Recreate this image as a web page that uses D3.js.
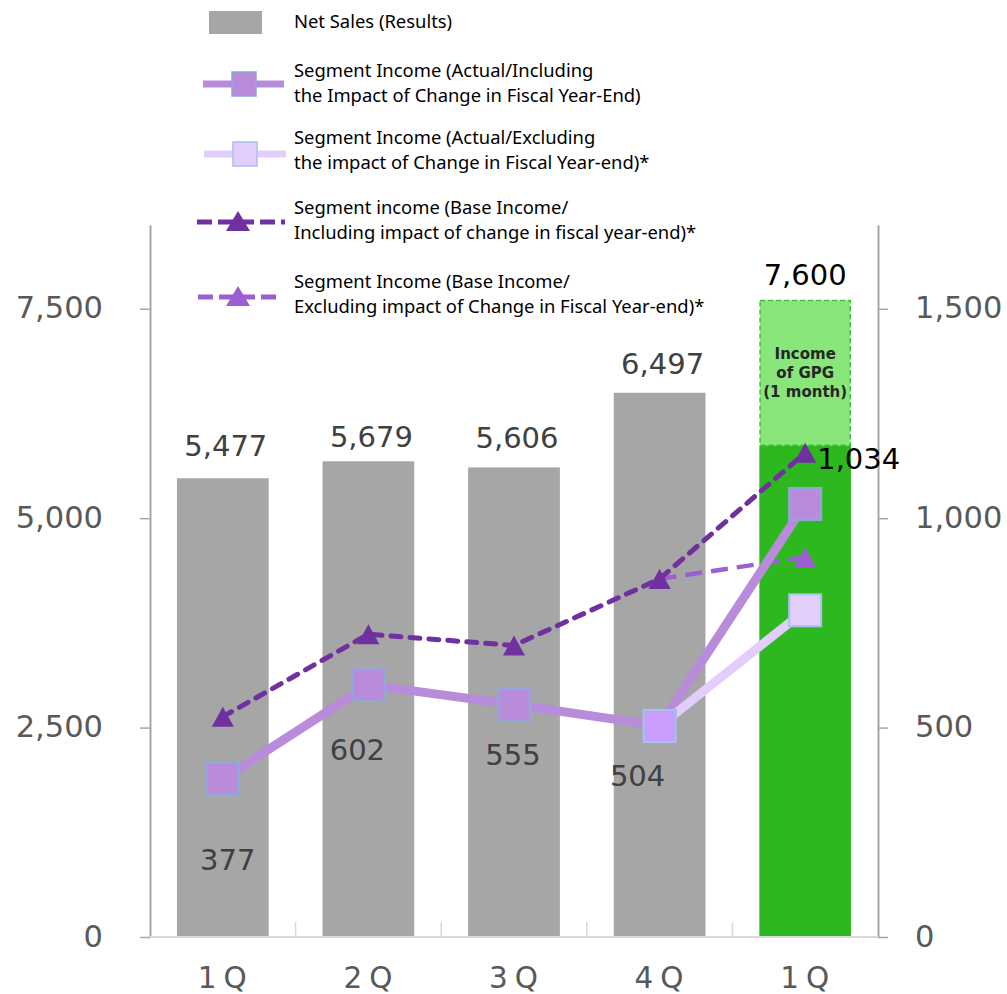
<!DOCTYPE html>
<html>
<head>
<meta charset="utf-8">
<script src="https://cdn.jsdelivr.net/npm/d3@7/dist/d3.min.js"></script>
<style>
  html, body { margin: 0; padding: 0; background: #fff; }
  svg { display: block; }
</style>
</head>
<body>
<svg id="chart" width="1007" height="994"></svg>
<script>
// Quarterly figures (net sales on the left axis, segment income on the right axis)
const quarters = ["1Q", "2Q", "3Q", "4Q", "1Q"];
const netSales = [5477, 5679, 5606, 6497, 7600];
const gpgSales = [0, 0, 0, 0, 1730];          // portion of the last quarter coming from GPG (1 month)
const incomeActualIncl = [377, 602, 555, 504, 1034];
const incomeActualExcl = [null, null, null, 504, 780];
const incomeBaseIncl = [526, 723, 696, 855, 1156];
const incomeBaseExcl = [null, null, null, 855, 907];
const salesTicks = [0, 2500, 5000, 7500];
const incomeTicks = [0, 500, 1000, 1500];

const legendItems = [
  ["Net Sales (Results)"],
  ["Segment Income (Actual/Including", "the Impact of Change in Fiscal Year-End)"],
  ["Segment Income (Actual/Excluding", "the impact of Change in Fiscal Year-end)*"],
  ["Segment income (Base Income/", "Including impact of change in fiscal year-end)*"],
  ["Segment Income (Base Income/", "Excluding impact of Change in Fiscal Year-end)*"]
];
const gpgNote = ["Income", "of GPG", "(1 month)"];

const svg = d3.select("#chart");
const plotL = 150, plotR = 878, plotT = 225, plotB = 937;
const numFont = "'DejaVu Sans', Verdana, sans-serif";
const legFont = "'Noto Sans', 'Open Sans', sans-serif";

const idx = d3.range(quarters.length);
const x = d3.scaleBand().domain(idx).range([plotL, plotR]).paddingInner(0.37).paddingOuter(0.185);
const ySales = d3.scaleLinear().domain([0, 8500]).range([plotB, plotT]);
const yIncome = d3.scaleLinear().domain([0, 1700]).range([plotB, plotT]);
const cx = i => x(i) + x.bandwidth() / 2;

const C = {
  bar: "#a6a6a6",
  gpgBase: "#2db81f",
  gpgTop: "#88e67b",
  gpgEdge: "#3fbf3a",
  actual: "#b98bdb",
  actualEdge: "#8eaadb",
  light: "#e2cdfb",
  lightEdge: "#a9c1ea",
  lightHi: "#c99cfd",
  base: "#7030a0",
  baseExcl: "#9c5fd1",
  axis: "#a6a6a6",
  grid: "#d9d9d9",
  tickText: "#595959",
  label: "#404040"
};

// ---- bars ----
const bars = svg.append("g");
idx.forEach(i => {
  const own = netSales[i] - gpgSales[i];
  bars.append("rect")
    .attr("x", x(i)).attr("width", x.bandwidth())
    .attr("y", ySales(own)).attr("height", ySales(0) - ySales(own))
    .attr("fill", gpgSales[i] > 0 ? C.gpgBase : C.bar);
  if (gpgSales[i] > 0) {
    bars.append("rect")
      .attr("x", x(i) + 0.75).attr("width", x.bandwidth() - 1.5)
      .attr("y", ySales(netSales[i])).attr("height", ySales(own) - ySales(netSales[i]))
      .attr("fill", C.gpgTop).attr("stroke", C.gpgEdge)
      .attr("stroke-width", 1.5).attr("stroke-dasharray", "5,3");
    const t = bars.append("text")
      .attr("x", cx(i)).attr("text-anchor", "middle")
      .attr("font-family", numFont).attr("font-weight", "bold")
      .attr("font-size", 15).attr("fill", "#262626");
    gpgNote.forEach((s, k) => t.append("tspan").attr("x", cx(i)).attr("y", 358.5 + k * 19).text(s));
  }
});

// ---- axes ----
const axL = svg.append("g").attr("transform", `translate(${plotL},0)`)
  .call(d3.axisLeft(ySales).tickValues(salesTicks).tickFormat(d3.format(","))
    .tickSize(10).tickSizeOuter(0).tickPadding(37));
const axR = svg.append("g").attr("transform", `translate(${plotR},0)`)
  .call(d3.axisRight(yIncome).tickValues(incomeTicks).tickFormat(d3.format(","))
    .tickSize(10).tickSizeOuter(0).tickPadding(27));
[axL, axR].forEach(a => {
  a.select(".domain").attr("stroke", C.axis).attr("stroke-width", 2);
  a.selectAll(".tick line").attr("stroke", C.axis).attr("stroke-width", 1.5);
  a.selectAll("text").attr("font-family", numFont).attr("font-size", 30.5)
    .attr("fill", C.tickText).attr("dy", "0.3em");
});

// category axis with band separators
const axX = svg.append("g");
axX.append("line").attr("x1", plotL).attr("x2", plotR).attr("y1", plotB).attr("y2", plotB)
  .attr("stroke", C.grid).attr("stroke-width", 2);
idx.slice(1).forEach(i => {
  const bx = x(i) - x.step() * x.paddingInner() / 2;
  axX.append("line").attr("x1", bx).attr("x2", bx).attr("y1", plotB).attr("y2", plotB - 15)
    .attr("stroke", C.grid).attr("stroke-width", 1.5);
});
axX.selectAll("text.cat").data(idx).join("text").attr("class", "cat")
  .attr("x", i => cx(i) + 3).attr("y", 988).attr("text-anchor", "middle")
  .attr("font-family", numFont).attr("font-size", 29.5).attr("letter-spacing", 7)
  .attr("fill", C.tickText).text(i => quarters[i]);

// ---- lines ----
const seriesLine = vals => d3.line()
  .defined(i => vals[i] != null)
  .x(i => cx(i)).y(i => yIncome(vals[i]))(idx);
const lines = svg.append("g").attr("fill", "none");
lines.append("path").attr("d", seriesLine(incomeBaseExcl))
  .attr("stroke", C.baseExcl).attr("stroke-width", 4.5).attr("stroke-dasharray", "17,9");
lines.append("path").attr("d", seriesLine(incomeBaseIncl))
  .attr("stroke", C.base).attr("stroke-width", 5).attr("stroke-dasharray", "10,9")
  .attr("stroke-linecap", "round");
lines.append("path").attr("d", seriesLine(incomeActualIncl))
  .attr("stroke", C.actual).attr("stroke-width", 9).attr("stroke-linejoin", "round");
lines.append("path").attr("d", seriesLine(incomeActualExcl))
  .attr("stroke", C.light).attr("stroke-width", 9).attr("stroke-linejoin", "round");

// ---- markers ----
const sq = 32;
const marks = svg.append("g");
idx.filter(i => incomeActualIncl[i] != null).forEach(i => {
  marks.append("rect").attr("x", cx(i) - sq / 2).attr("y", yIncome(incomeActualIncl[i]) - sq / 2)
    .attr("width", sq).attr("height", sq)
    .attr("fill", C.actual).attr("stroke", C.actualEdge).attr("stroke-width", 2);
});
idx.filter(i => incomeActualExcl[i] != null).forEach(i => {
  const first = incomeActualExcl[i - 1] == null;
  marks.append("rect").attr("x", cx(i) - sq / 2).attr("y", yIncome(incomeActualExcl[i]) - sq / 2)
    .attr("width", sq).attr("height", sq)
    .attr("fill", first ? C.lightHi : C.light).attr("stroke", C.lightEdge).attr("stroke-width", 2);
});
const tri = (px, py, w, h) => `M${px},${py - h / 2}L${px + w / 2},${py + h / 2}L${px - w / 2},${py + h / 2}Z`;
idx.filter(i => incomeBaseExcl[i] != null).forEach(i => {
  marks.append("path").attr("d", tri(cx(i), yIncome(incomeBaseExcl[i]), 22, 20)).attr("fill", C.baseExcl);
});
idx.forEach(i => {
  marks.append("path").attr("d", tri(cx(i), yIncome(incomeBaseIncl[i]), 22, 20)).attr("fill", C.base);
});

// ---- value labels ----
const labels = svg.append("g").attr("font-family", numFont).attr("font-size", 29);
// vertical gap between each bar top and its label baseline
const salesLabelGap = [22, 14, 19, 19, 15];
idx.forEach(i => {
  labels.append("text").attr("x", cx(i) + (gpgSales[i] > 0 ? 0 : 3)).attr("y", ySales(netSales[i]) - salesLabelGap[i])
    .attr("text-anchor", "middle").attr("fill", gpgSales[i] > 0 ? "#000" : C.label)
    .text(d3.format(",")(netSales[i]));
});
// offsets of the income labels under each point
const incomeLabelShift = [[5, 91], [-11, 75], [-1, 60], [-22, 60]];
incomeLabelShift.forEach(([dx, dy], i) => {
  labels.append("text").attr("x", cx(i) + dx).attr("y", yIncome(incomeActualIncl[i]) + dy)
    .attr("text-anchor", "middle").attr("fill", C.label)
    .text(d3.format(",")(incomeActualIncl[i]));
});
const last = idx.length - 1;
labels.append("text").attr("x", cx(last) + 12).attr("y", yIncome(incomeActualIncl[last]) - 35)
  .attr("fill", "#000").text(d3.format(",")(incomeActualIncl[last]));

// ---- legend ----
const leg = svg.append("g");
const textX = 294;
const rowY = [[22], [71, 96], [138, 163], [208, 233], [282, 307]];
const symY = [22, 84, 154, 222, 297];
legendItems.forEach((rows, r) => {
  rows.forEach((s, k) => leg.append("text").attr("x", textX).attr("y", rowY[r][k]).attr("dy", "0.35em")
    .attr("font-family", legFont).attr("font-size", 18.4).attr("fill", "#000").text(s));
});
leg.append("rect").attr("x", 209).attr("y", 11).attr("width", 53).attr("height", 23).attr("fill", C.bar);
leg.append("line").attr("x1", 203).attr("x2", 284).attr("y1", symY[1]).attr("y2", symY[1])
  .attr("stroke", C.actual).attr("stroke-width", 7);
leg.append("rect").attr("x", 232).attr("y", symY[1] - 12).attr("width", 24).attr("height", 24)
  .attr("fill", C.actual).attr("stroke", C.actualEdge).attr("stroke-width", 1.5);
leg.append("line").attr("x1", 204).attr("x2", 286).attr("y1", symY[2]).attr("y2", symY[2])
  .attr("stroke", C.light).attr("stroke-width", 7);
leg.append("rect").attr("x", 233).attr("y", symY[2] - 12).attr("width", 24).attr("height", 24)
  .attr("fill", C.light).attr("stroke", C.lightEdge).attr("stroke-width", 1.5);
leg.append("line").attr("x1", 197).attr("x2", 285).attr("y1", symY[3]).attr("y2", symY[3])
  .attr("stroke", C.base).attr("stroke-width", 5).attr("stroke-dasharray", "15,6");
leg.append("path").attr("d", tri(238, symY[3] - 1, 24, 20)).attr("fill", C.base);
leg.append("line").attr("x1", 198).attr("x2", 278).attr("y1", symY[4]).attr("y2", symY[4])
  .attr("stroke", C.baseExcl).attr("stroke-width", 5).attr("stroke-dasharray", "15,6");
leg.append("path").attr("d", tri(238, symY[4] - 1, 24, 20)).attr("fill", C.baseExcl);
</script>
</body>
</html>
